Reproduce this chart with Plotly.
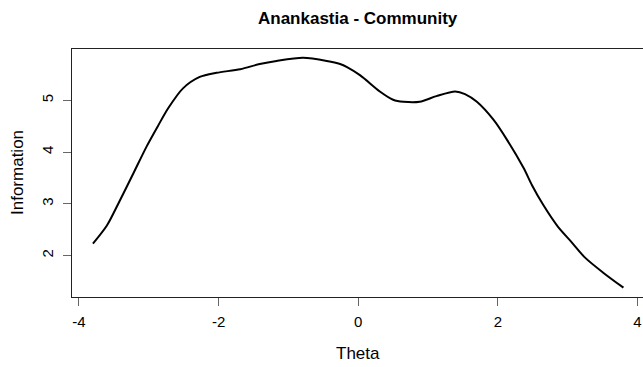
import plotly.graph_objects as go

theta = [-3.8, -3.6, -3.43, -3.22, -3.03, -2.87, -2.72, -2.51, -2.27, -2.03, -1.69, -1.41,
         -1.17, -0.79, -0.45, -0.26, -0.16, 0.03, 0.31, 0.50, 0.65, 0.88, 1.12, 1.39, 1.53,
         1.70, 1.94, 2.13, 2.37, 2.49, 2.65, 2.86, 3.05, 3.25, 3.51, 3.8]
information = [2.23, 2.58, 3.02, 3.59, 4.11, 4.50, 4.85, 5.23, 5.45, 5.53, 5.60, 5.70,
               5.76, 5.82, 5.76, 5.70, 5.64, 5.48, 5.17, 5.01, 4.97, 4.97, 5.08, 5.17, 5.12,
               4.97, 4.62, 4.24, 3.69, 3.36, 2.98, 2.56, 2.27, 1.96, 1.67, 1.38]
x_ticks = [-4, -2, 0, 2, 4]
y_ticks = [2, 3, 4, 5]

FONT = "Liberation Sans, Arial, sans-serif"

fig = go.Figure()
fig.add_trace(go.Scatter(
    x=theta, y=information, mode="lines",
    line=dict(color="black", width=2, shape="spline", smoothing=0.8),
    showlegend=False, hoverinfo="skip",
))

fig.update_layout(
    width=643, height=367,
    margin=dict(l=72, r=0, t=49, b=70),
    paper_bgcolor="white", plot_bgcolor="white",
    font=dict(family=FONT, size=12, color="black"),
    xaxis=dict(
        range=[-4.1, 4.08], tickvals=x_ticks, ticktext=[str(v) for v in x_ticks],
        showgrid=False, zeroline=False, showline=True, linecolor="#222", linewidth=1,
        mirror=True, ticks="outside", ticklen=8, tickcolor="#666", tickwidth=1,
        tickfont=dict(size=15, family=FONT, color="black"), ticklabelstandoff=3,
    ),
    yaxis=dict(
        range=[1.2, 5.99], tickvals=y_ticks, ticktext=[str(v) for v in y_ticks],
        showgrid=False, zeroline=False, showline=True, linecolor="#222", linewidth=1,
        ticks="outside", ticklen=8, tickcolor="#666", tickwidth=1, tickangle=-90,
        tickfont=dict(size=15, family=FONT, color="black"), ticklabelstandoff=4,
    ),
    annotations=[
        dict(text="<b>Anankastia - Community</b>", xref="paper", yref="paper",
             x=(358 - 72) / 571, y=(297 - 18) / 248, xanchor="center", yanchor="middle",
             showarrow=False, font=dict(size=17, family=FONT, color="black")),
        dict(text="Theta", xref="paper", yref="paper",
             x=(358 - 72) / 571, y=-(353 - 297) / 248, xanchor="center", yanchor="middle",
             showarrow=False, font=dict(size=17, family=FONT, color="black")),
        dict(text="Information", xref="paper", yref="paper", textangle=-90,
             x=(17 - 72) / 571, y=0.5, xanchor="center", yanchor="middle",
             showarrow=False, font=dict(size=17, family=FONT, color="black")),
    ],
)

fig.write_html("out.html")
